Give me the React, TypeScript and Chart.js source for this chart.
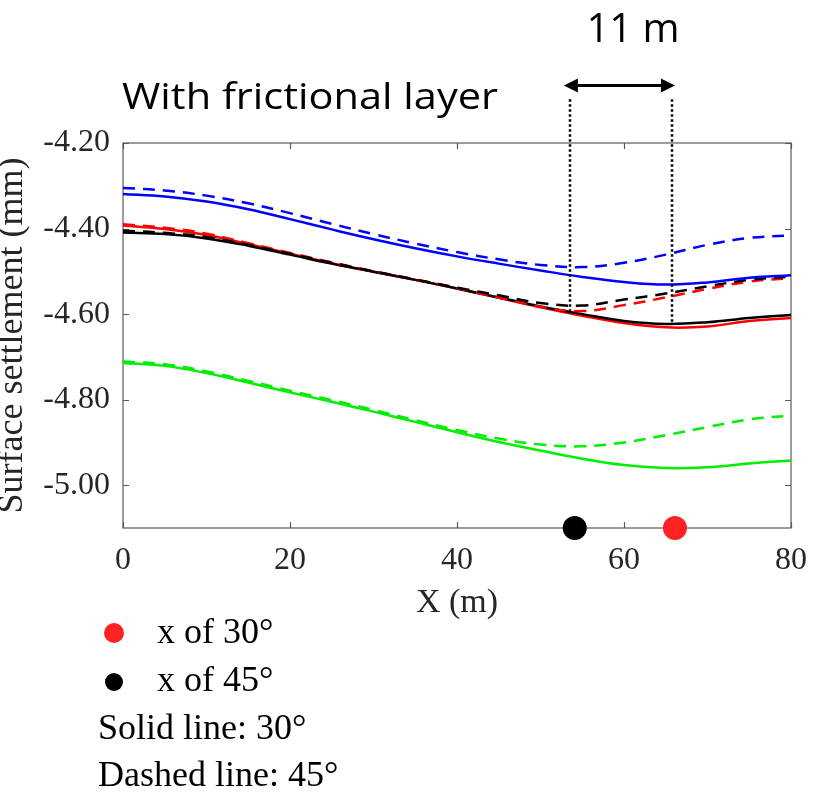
import React, { useEffect, useRef } from 'react';
import { Chart, registerables } from 'chart.js';

Chart.register(...registerables);

// ---- data ----
const X_M = [0, 5, 10, 15, 20, 25, 30, 35, 40, 45, 50, 55, 60, 65, 70, 75, 80];

const BLUE_SOLID = [-4.319, -4.325, -4.337, -4.355, -4.378, -4.402, -4.425, -4.446, -4.465, -4.482, -4.498, -4.513, -4.525, -4.531, -4.526, -4.515, -4.509];
const BLUE_DASHED = [-4.305, -4.311, -4.323, -4.341, -4.364, -4.389, -4.413, -4.435, -4.455, -4.472, -4.485, -4.49, -4.48, -4.461, -4.438, -4.422, -4.416];
const RED_SOLID = [-4.393, -4.401, -4.415, -4.436, -4.459, -4.481, -4.501, -4.52, -4.54, -4.562, -4.584, -4.604, -4.621, -4.631, -4.629, -4.616, -4.609];
const RED_DASHED = [-4.39, -4.398, -4.412, -4.434, -4.457, -4.479, -4.5, -4.519, -4.539, -4.561, -4.583, -4.593, -4.579, -4.561, -4.541, -4.524, -4.516];
const BLACK_SOLID = [-4.409, -4.413, -4.423, -4.44, -4.461, -4.482, -4.501, -4.52, -4.54, -4.561, -4.582, -4.6, -4.616, -4.623, -4.619, -4.609, -4.602];
const BLACK_DASHED = [-4.405, -4.41, -4.42, -4.438, -4.459, -4.48, -4.5, -4.519, -4.538, -4.556, -4.574, -4.58, -4.566, -4.552, -4.535, -4.52, -4.512];
const GREEN_SOLID = [-4.714, -4.721, -4.738, -4.76, -4.783, -4.805, -4.828, -4.852, -4.876, -4.899, -4.919, -4.938, -4.953, -4.96, -4.958, -4.949, -4.942];
const GREEN_DASHED = [-4.711, -4.717, -4.734, -4.756, -4.779, -4.801, -4.824, -4.848, -4.871, -4.891, -4.905, -4.909, -4.9, -4.883, -4.864, -4.846, -4.837];

const MARK_X_45 = 54.1;
const MARK_X_30 = 66.1;
const MARK_Y = -5.1;

const X_TICKS = [0, 20, 40, 60, 80];
const Y_TICKS = [-5.0, -4.8, -4.6, -4.4, -4.2];

const DIM_X = [53.5, 65.7];
const DIM_TOP = -4.098;
const DIM_BOTTOM = [-4.592, -4.622];
const ARROW_FROM = 52.8;
const ARROW_TO = 66.1;
const ARROW_Y = -4.065;

const TITLE_TEXT = 'With frictional layer';
const DIM_TEXT = '11 m';
const LEGEND_TEXTS = ['x of 30°', 'x of 45°', 'Solid line: 30°', 'Dashed line: 45°'];

const pts = (arr: number[]) => X_M.map((x, i) => ({ x, y: arr[i] }));

const SERIF = '"Liberation Serif", "Times New Roman", serif';
const SANS = '"Open Sans", "Noto Sans", sans-serif';

export default function App() {
  const ref = useRef<HTMLCanvasElement>(null);

  useEffect(() => {
    const canvas = ref.current;
    if (!canvas) return;

    const framePlugin = {
      id: 'frame',
      beforeDatasetsDraw(chart: any) {
        const { ctx, chartArea } = chart;
        const { left, top, right, bottom } = chartArea;
        const xs = chart.scales.x;
        const ys = chart.scales.y;
        ctx.save();
        ctx.strokeStyle = '#5a5a5a';
        ctx.lineWidth = 1.2;
        ctx.strokeRect(left, top, right - left, bottom - top);
        ctx.beginPath();
        X_TICKS.forEach((v) => {
          const px = Math.round(xs.getPixelForValue(v)) + 0.5;
          ctx.moveTo(px, bottom);
          ctx.lineTo(px, bottom - 6);
          ctx.moveTo(px, top);
          ctx.lineTo(px, top + 6);
        });
        Y_TICKS.forEach((v) => {
          const py = Math.round(ys.getPixelForValue(v)) + 0.5;
          ctx.moveTo(left, py);
          ctx.lineTo(left + 6, py);
          ctx.moveTo(right, py);
          ctx.lineTo(right - 6, py);
        });
        ctx.stroke();
        ctx.restore();
      },
      afterDraw(chart: any) {
        const { ctx } = chart;
        const xs = chart.scales.x;
        const ys = chart.scales.y;
        ctx.save();
        // dotted dimension lines
        ctx.strokeStyle = '#000';
        ctx.lineWidth = 2.5;
        ctx.setLineDash([2.5, 2.5]);
        DIM_X.forEach((v, i) => {
          const px = Math.round(xs.getPixelForValue(v));
          ctx.beginPath();
          ctx.moveTo(px, ys.getPixelForValue(DIM_TOP));
          ctx.lineTo(px, ys.getPixelForValue(DIM_BOTTOM[i]));
          ctx.stroke();
        });
        ctx.setLineDash([]);
        // double arrow
        const ax0 = xs.getPixelForValue(ARROW_FROM);
        const ax1 = xs.getPixelForValue(ARROW_TO);
        const ay = Math.round(ys.getPixelForValue(ARROW_Y)) + 0.5;
        ctx.lineWidth = 3;
        ctx.beginPath();
        ctx.moveTo(ax0 + 10, ay);
        ctx.lineTo(ax1 - 10, ay);
        ctx.stroke();
        ctx.fillStyle = '#000';
        ctx.beginPath();
        ctx.moveTo(ax0, ay);
        ctx.lineTo(ax0 + 14, ay - 7);
        ctx.lineTo(ax0 + 14, ay + 7);
        ctx.closePath();
        ctx.fill();
        ctx.beginPath();
        ctx.moveTo(ax1, ay);
        ctx.lineTo(ax1 - 14, ay - 7);
        ctx.lineTo(ax1 - 14, ay + 7);
        ctx.closePath();
        ctx.fill();

        // texts
        ctx.fillStyle = '#000';
        ctx.textBaseline = 'alphabetic';
        ctx.font = `37px ${SANS}`;
        const tw = ctx.measureText(TITLE_TEXT).width;
        ctx.save();
        ctx.translate(122, 109);
        ctx.scale(376 / tw, 1);
        ctx.textAlign = 'left';
        ctx.fillText(TITLE_TEXT, 0, 0);
        ctx.restore();
        ctx.font = `40px ${SANS}`;
        ctx.textAlign = 'center';
        ctx.fillText(DIM_TEXT, 633, 42);

        // legend below
        ctx.fillStyle = '#ff2222';
        ctx.beginPath();
        ctx.arc(114, 633, 10, 0, Math.PI * 2);
        ctx.fill();
        ctx.fillStyle = '#000';
        ctx.beginPath();
        ctx.arc(114, 682, 9, 0, Math.PI * 2);
        ctx.fill();
        ctx.font = `36px ${SERIF}`;
        ctx.textAlign = 'left';
        ctx.fillText(LEGEND_TEXTS[0], 157, 643);
        ctx.fillText(LEGEND_TEXTS[1], 157, 691);
        ctx.fillText(LEGEND_TEXTS[2], 98, 739);
        ctx.fillText(LEGEND_TEXTS[3], 98, 786);
        ctx.restore();
      },
    };

    const lineDs = (label: string, arr: number[], color: string, dashed: boolean) => ({
      label,
      data: pts(arr),
      borderColor: color,
      backgroundColor: color,
      borderWidth: 2.5,
      borderDash: dashed ? [12, 8] : [],
      pointRadius: 0,
      fill: false,
      tension: 0.4,
    });

    const chart = new Chart(canvas, {
      type: 'line',
      data: {
        datasets: [
          lineDs('Blue 45°', BLUE_DASHED, '#0000ff', true),
          lineDs('Blue 30°', BLUE_SOLID, '#0000ff', false),
          lineDs('Black 45°', BLACK_DASHED, '#000000', true),
          lineDs('Red 45°', RED_DASHED, '#ff0000', true),
          lineDs('Black 30°', BLACK_SOLID, '#000000', false),
          lineDs('Red 30°', RED_SOLID, '#ff0000', false),
          lineDs('Green 45°', GREEN_DASHED, '#00ee00', true),
          lineDs('Green 30°', GREEN_SOLID, '#00ee00', false),
          {
            label: 'x of 45°',
            data: [{ x: MARK_X_45, y: MARK_Y }],
            showLine: false,
            pointRadius: 12,
            pointBackgroundColor: '#000000',
            pointBorderWidth: 0,
            borderColor: '#000000',
            clip: false,
          } as any,
          {
            label: 'x of 30°',
            data: [{ x: MARK_X_30, y: MARK_Y }],
            showLine: false,
            pointRadius: 12,
            pointBackgroundColor: '#ff2222',
            pointBorderWidth: 0,
            borderColor: '#ff2222',
            clip: false,
          } as any,
        ],
      },
      options: {
        animation: false,
        responsive: false,
        devicePixelRatio: 1,
        layout: { padding: { left: 0, top: 143, right: 29, bottom: 170 } },
        plugins: { legend: { display: false }, tooltip: { enabled: false } },
        scales: {
          x: {
            type: 'linear',
            min: 0,
            max: 80,
            afterBuildTicks: (s: any) => {
              s.ticks = X_TICKS.map((v) => ({ value: v }));
            },
            afterFit: (s: any) => {
              s.height = 95;
            },
            grid: { display: false, drawTicks: false },
            border: { display: false },
            ticks: {
              padding: 13,
              color: '#262626',
              font: { family: SERIF, size: 32 },
              maxRotation: 0,
            },
            title: {
              display: true,
              text: 'X (m)',
              color: '#262626',
              font: { family: SERIF, size: 34 },
              padding: { top: 0, bottom: 0 },
            },
          },
          y: {
            type: 'linear',
            min: -5.1,
            max: -4.2,
            afterBuildTicks: (s: any) => {
              s.ticks = Y_TICKS.map((v) => ({ value: v }));
            },
            afterFit: (s: any) => {
              s.width = 123;
            },
            grid: { display: false, drawTicks: false },
            border: { display: false },
            ticks: {
              padding: 13,
              color: '#262626',
              font: { family: SERIF, size: 32 },
              callback: (v: any) => Number(v).toFixed(2),
            },
            title: {
              display: true,
              text: 'Surface settlement (mm)',
              color: '#262626',
              font: { family: SERIF, size: 36 },
              padding: { top: -9, bottom: 0 },
            },
          },
        },
      },
      plugins: [framePlugin],
    });

    return () => chart.destroy();
  }, []);

  return (
    <div style={{ position: 'fixed', left: 0, top: 0, width: 820, height: 793, background: '#fff' }}>
      <canvas ref={ref} width={820} height={793} style={{ width: 820, height: 793, display: 'block' }} />
    </div>
  );
}
